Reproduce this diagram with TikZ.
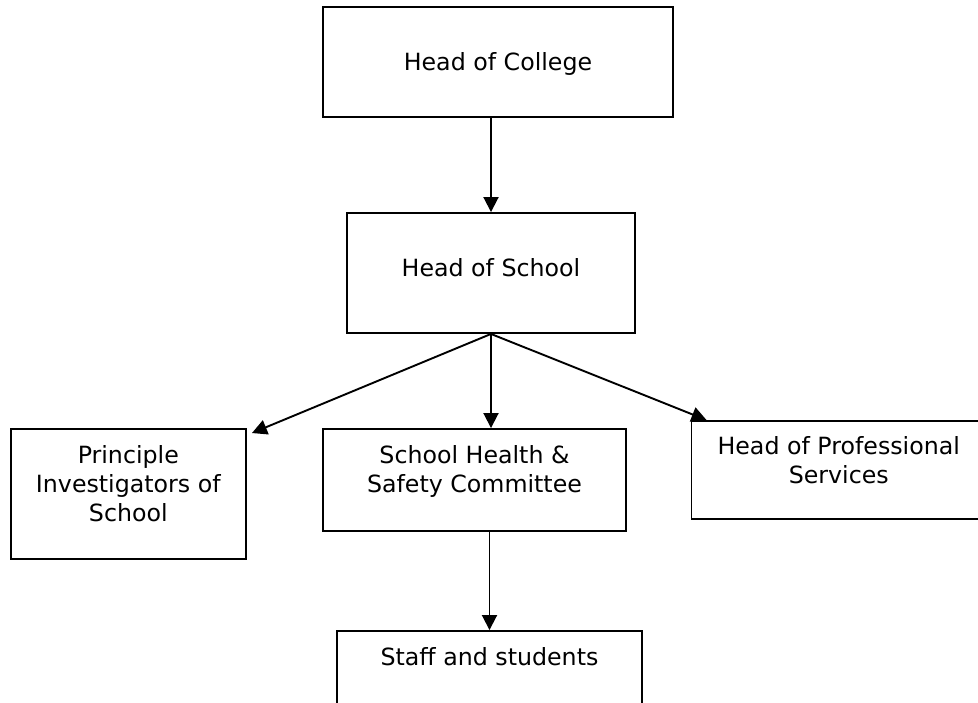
\documentclass[tikz,border=0pt]{standalone}
\usepackage{fontspec}
\setmainfont{DejaVu Sans}
\usetikzlibrary{arrows.meta,calc}
\begin{document}
\begin{tikzpicture}[x=1pt,y=-1pt,
  box/.style={draw,line width=1.9pt,rectangle,inner sep=0pt},
  lbl/.style={font=\fontsize{23.7}{29}\selectfont,align=center,inner sep=0pt},
  link/.style={line width=1.9pt,-{Triangle[length=15pt,width=15pt]}}]
\fill[white] (0,0) rectangle (978,703);
\clip (0,0) rectangle (978,703);
% boxes
\node[box,minimum width=350pt,minimum height=110pt] (college) at (498,62) {};
\node[box,minimum width=288pt,minimum height=120pt] (school) at (491,273) {};
\node[box,minimum width=235.4pt,minimum height=130pt] (pi) at (128.3,494) {};
\node[box,minimum width=303pt,minimum height=102pt] (shsc) at (474.5,480) {};
\node[box,minimum width=294.5pt,minimum height=98pt] (hps) at (838.75,470) {};
\node[box,minimum width=305pt,minimum height=100pt] (staff) at (489.5,681) {};
% labels
\node[lbl,anchor=base] (tcollege) at (498,71) {Head of College};
\node[lbl,anchor=base] (tschool) at (491,277) {Head of School};
\node[lbl,anchor=north] (tpi) at ($(pi.north)+(0,17)$) {Principle\\Investigators of\\School};
\node[lbl,anchor=north] (tshsc) at ($(shsc.north)+(0,17)$) {School Health \&\\Safety Committee};
\node[lbl,anchor=north] (thps) at ($(hps.north)+(0,16)$) {Head of Professional\\Services};
\node[lbl,anchor=north] (tstaff) at ($(staff.north)+(0,17)$) {Staff and students};
% connectors
\draw[link] (school.north |- college.south) -- (school.north);
\draw[link] (school.south) -- ($(pi.north east)+(5,5)$);
\draw[link] (school.south) -- (school.south |- shsc.north);
\draw[link] (school.south) -- ($(hps.north west)+(16,0)$);
\draw[link] (staff.north |- shsc.south) -- (staff.north);
\end{tikzpicture}
\end{document}
